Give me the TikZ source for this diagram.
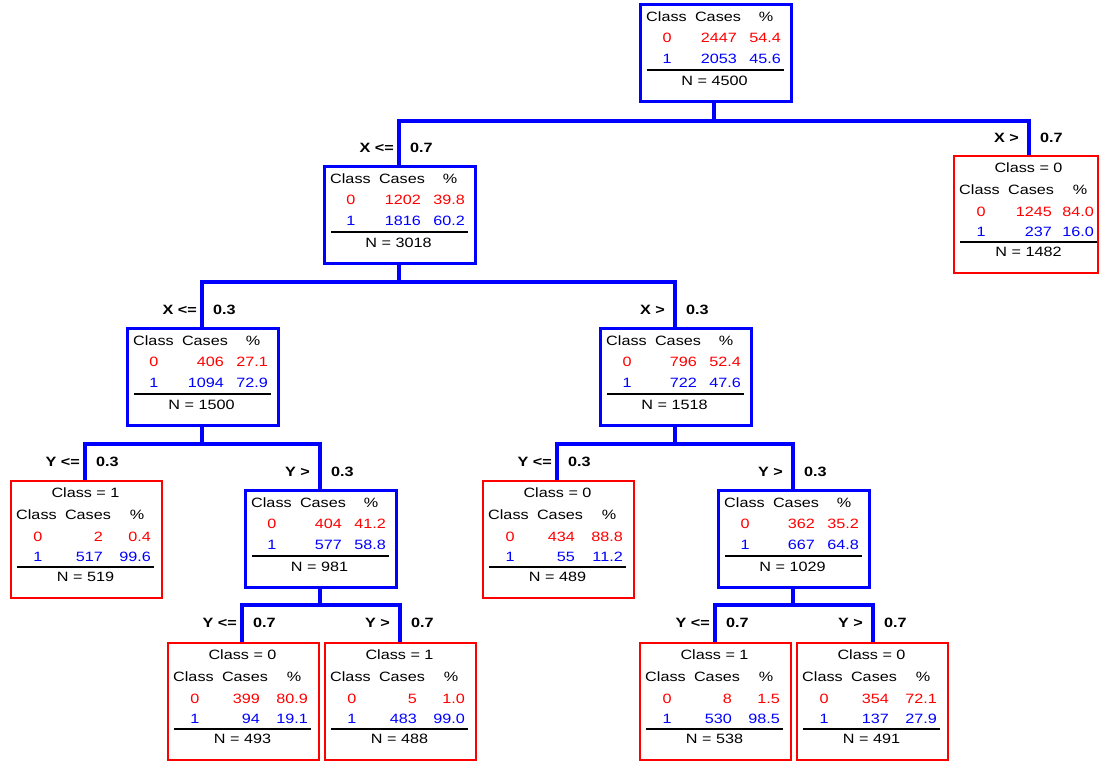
\documentclass[tikz,border=0pt]{standalone}
\usepackage{fontspec}
\newfontfamily\treefont[FakeStretch=1.2]{Liberation Sans}
\definecolor{tblue}{RGB}{0,0,255}
\definecolor{tred}{RGB}{255,0,0}
\tikzset{
  txt/.style={inner sep=0pt, font=\treefont\fontsize{13.5}{16}\selectfont, text height=9.7pt, text depth=0pt},
  lbl/.style={txt, font=\treefont\fontsize{13.5}{16}\selectfont\bfseries},
  ibox/.style={draw=tblue, line width=3pt, fill=white, minimum width=151pt, minimum height=97pt, inner sep=0pt},
  lbox/.style={draw=tred, line width=1.6pt, fill=white, minimum height=117pt, inner sep=0pt},
  conn/.style={draw=tblue, line width=3.6pt},
  rulel/.style={draw=black, line width=1.3pt}
}
\def\leafw{151pt}
\def\leafcr{93}
% name L T c0 p0 c1 p1 N
\newcommand\treeinner[8]{%
  \node[ibox, anchor=north west] (#1) at (#2,#3) {};
  \node[txt, anchor=west] (#1hA) at (#2+7,#3+14) {Class};
  \node[txt] (#1hB) at (#2+79,#3+14) {Cases};
  \node[txt] (#1hC) at (#2+127,#3+14) {\%};
  \node[txt, text=tred] (#1aA) at (#2+28,#3+35) {0};
  \node[txt, text=tred, anchor=east] (#1aB) at (#2+98,#3+35) {#4};
  \node[txt, text=tred, anchor=east] (#1aC) at (#2+142,#3+35) {#5};
  \node[txt, text=tblue] (#1bA) at (#2+28,#3+56) {1};
  \node[txt, text=tblue, anchor=east] (#1bB) at (#2+98,#3+56) {#6};
  \node[txt, text=tblue, anchor=east] (#1bC) at (#2+142,#3+56) {#7};
  \draw[rulel] (#2+8,#3+67) -- (#2+145,#3+67);
  \node[txt] (#1N) at (#2+75.5,#3+78) {N = #8};
}
% name L T class c0 p0 c1 p1 N
\newcommand\treeleaf[9]{%
  \node[lbox, minimum width=\leafw, anchor=north west] (#1) at (#2,#3) {};
  \node[txt] (#1t) at (#2+75.5,#3+13) {Class = #4};
  \node[txt, anchor=west] (#1hA) at (#2+6,#3+35) {Class};
  \node[txt] (#1hB) at (#2+78,#3+35) {Cases};
  \node[txt] (#1hC) at (#2+127,#3+35) {\%};
  \node[txt, text=tred] (#1aA) at (#2+28,#3+57) {0};
  \node[txt, text=tred, anchor=east] (#1aB) at (#2+\leafcr,#3+57) {#5};
  \node[txt, text=tred, anchor=east] (#1aC) at (#2+141,#3+57) {#6};
  \node[txt, text=tblue] (#1bA) at (#2+28,#3+77) {1};
  \node[txt, text=tblue, anchor=east] (#1bB) at (#2+\leafcr,#3+77) {#7};
  \node[txt, text=tblue, anchor=east] (#1bC) at (#2+141,#3+77) {#8};
  \draw[rulel] (#2+7,#3+87) -- (#2+144,#3+87);
  \node[txt] (#1N) at (#2+75.5,#3+97) {N = #9};
}
\begin{document}
\begin{tikzpicture}[x=1pt,y=-1pt]
\fill[white] (0,0) rectangle (1100,761);
\useasboundingbox (0,0) rectangle (1100,761);

% connectors (drawn first so boxes sit on top)
\coordinate (c0) at (714,100);
\coordinate (c1) at (399,263);
\coordinate (c2) at (202,424);
\coordinate (c3) at (675,424);
\coordinate (c4) at (320,586);
\coordinate (c5) at (793,586);
\coordinate (t1) at (399,165);
\coordinate (t2) at (1029,155);
\coordinate (t3) at (202,327);
\coordinate (t4) at (675,327);
\coordinate (t5) at (85,480);
\coordinate (t6) at (320,489);
\coordinate (t7) at (242,642);
\coordinate (t8) at (400,642);
\coordinate (t9) at (557,480);
\coordinate (t10) at (793,489);
\coordinate (t11) at (715,642);
\coordinate (t12) at (873,642);

\draw[conn] (c0) -- ++(0,21) -| (t1);
\draw[conn] (c0) -- ++(0,21) -| (t2);
\draw[conn] (c1) -- ++(0,19) -| (t3);
\draw[conn] (c1) -- ++(0,19) -| (t4);
\draw[conn] (c2) -- ++(0,20) -| (t5);
\draw[conn] (c2) -- ++(0,20) -| (t6);
\draw[conn] (c3) -- ++(0,20) -| (t9);
\draw[conn] (c3) -- ++(0,20) -| (t10);
\draw[conn] (c4) -- ++(0,19) -| (t7);
\draw[conn] (c4) -- ++(0,19) -| (t8);
\draw[conn] (c5) -- ++(0,19) -| (t11);
\draw[conn] (c5) -- ++(0,19) -| (t12);

% boxes
\treeinner{n0}{639}{3}{2447}{54.4}{2053}{45.6}{4500}
\treeinner{n1}{323}{165}{1202}{39.8}{1816}{60.2}{3018}
\treeinner{n3}{126}{327}{406}{27.1}{1094}{72.9}{1500}
\treeinner{n4}{599}{327}{796}{52.4}{722}{47.6}{1518}
\treeinner{n6}{244}{489}{404}{41.2}{577}{58.8}{981}
\treeinner{n10}{717}{489}{362}{35.2}{667}{64.8}{1029}

\treeleaf{n5}{10}{480}{1}{2}{0.4}{517}{99.6}{519}
\treeleaf{n7}{167}{642}{0}{399}{80.9}{94}{19.1}{493}
\treeleaf{n8}{324}{642}{1}{5}{1.0}{483}{99.0}{488}
\treeleaf{n9}{482}{480}{0}{434}{88.8}{55}{11.2}{489}
\treeleaf{n11}{639}{642}{1}{8}{1.5}{530}{98.5}{538}
\treeleaf{n12}{796}{642}{0}{354}{72.1}{137}{27.9}{491}
\def\leafw{144pt}\def\leafcr{99}
\treeleaf{n2}{953}{155}{0}{1245}{84.0}{237}{16.0}{1482}

% branch labels
\node[lbl, anchor=east] (l1a) at ([xshift=-5pt,yshift=17pt]t1) {X <=};
\node[lbl, anchor=west] (l1b) at ([xshift=11pt,yshift=17pt]t1) {0.7};
\node[lbl, anchor=east] (l2a) at ([xshift=-10pt,yshift=17pt]t2) {X >};
\node[lbl, anchor=west] (l2b) at ([xshift=11pt,yshift=17pt]t2) {0.7};
\node[lbl, anchor=east] (l3a) at ([xshift=-5pt,yshift=17pt]t3) {X <=};
\node[lbl, anchor=west] (l3b) at ([xshift=11pt,yshift=17pt]t3) {0.3};
\node[lbl, anchor=east] (l4a) at ([xshift=-10pt,yshift=17pt]t4) {X >};
\node[lbl, anchor=west] (l4b) at ([xshift=11pt,yshift=17pt]t4) {0.3};
\node[lbl, anchor=east] (l5a) at ([xshift=-5pt,yshift=18pt]t5) {Y <=};
\node[lbl, anchor=west] (l5b) at ([xshift=11pt,yshift=18pt]t5) {0.3};
\node[lbl, anchor=east] (l6a) at ([xshift=-10pt,yshift=17pt]t6) {Y >};
\node[lbl, anchor=west] (l6b) at ([xshift=11pt,yshift=17pt]t6) {0.3};
\node[lbl, anchor=east] (l7a) at ([xshift=-5pt,yshift=19pt]t7) {Y <=};
\node[lbl, anchor=west] (l7b) at ([xshift=11pt,yshift=19pt]t7) {0.7};
\node[lbl, anchor=east] (l8a) at ([xshift=-10pt,yshift=19pt]t8) {Y >};
\node[lbl, anchor=west] (l8b) at ([xshift=11pt,yshift=19pt]t8) {0.7};
\node[lbl, anchor=east] (l9a) at ([xshift=-5pt,yshift=18pt]t9) {Y <=};
\node[lbl, anchor=west] (l9b) at ([xshift=11pt,yshift=18pt]t9) {0.3};
\node[lbl, anchor=east] (l10a) at ([xshift=-10pt,yshift=17pt]t10) {Y >};
\node[lbl, anchor=west] (l10b) at ([xshift=11pt,yshift=17pt]t10) {0.3};
\node[lbl, anchor=east] (l11a) at ([xshift=-5pt,yshift=19pt]t11) {Y <=};
\node[lbl, anchor=west] (l11b) at ([xshift=11pt,yshift=19pt]t11) {0.7};
\node[lbl, anchor=east] (l12a) at ([xshift=-10pt,yshift=19pt]t12) {Y >};
\node[lbl, anchor=west] (l12b) at ([xshift=11pt,yshift=19pt]t12) {0.7};
\end{tikzpicture}
\end{document}
